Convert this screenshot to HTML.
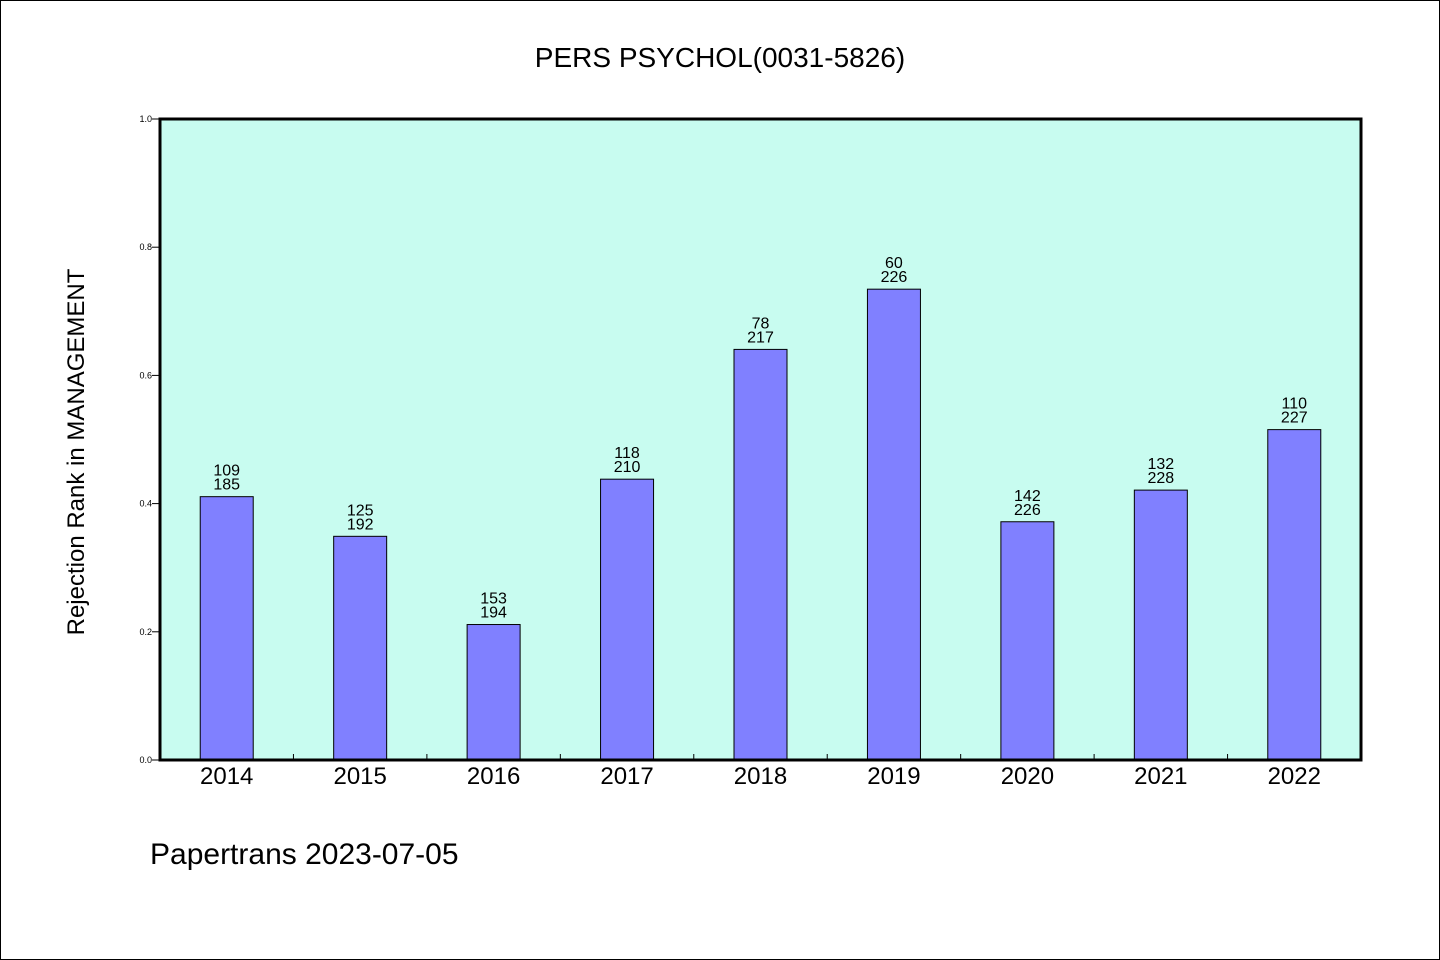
<!DOCTYPE html>
<html><head><meta charset="utf-8"><style>
body{margin:0;background:#fff}
svg{display:block;font-family:"WenQuanYi Zen Hei","Liberation Sans",sans-serif}
</style></head><body>
<svg width="1440" height="960" viewBox="0 0 1440 960">
<rect x="0.5" y="0.5" width="1439" height="959" fill="#fff" stroke="#000"/>
<text x="720" y="67" text-anchor="middle" font-size="28">PERS PSYCHOL(0031-5826)</text>
<rect x="160" y="119" width="1201" height="641" fill="#c8fcf0"/>
<g id="marks"></g>
<rect x="160" y="119" width="1201" height="641" fill="none" stroke="#000" stroke-width="3"/>
<text transform="translate(84,452) rotate(-90)" text-anchor="middle" font-size="24">Rejection Rank in MANAGEMENT</text>
<text x="150" y="864" font-size="30">Papertrans 2023-07-05</text>
</svg>
<script>
const categories=["2014","2015","2016","2017","2018","2019","2020","2021","2022"];
const ranks=[109,125,153,118,78,60,142,132,110];
const totals=[185,192,194,210,217,226,226,228,227];
const yTicks=[0,0.2,0.4,0.6,0.8,1.0];
const X0=160,X1=1361,Y0=760,Y1=119;
const band=(X1-X0)/categories.length;
const xc=i=>X0+band*(i+0.5);
const y=v=>Y0-(Y0-Y1)*v;
const g=document.getElementById('marks');
const NS='http://www.w3.org/2000/svg';
function mk(t,a){const e=document.createElementNS(NS,t);for(const k in a)e.setAttribute(k,a[k]);g.appendChild(e);return e;}
yTicks.forEach(v=>{
 const l=mk('line',{x1:152,x2:160,y1:y(v),y2:y(v),stroke:'#000'});
 
 
 const t=mk('text',{x:152,y:y(v)+3,'text-anchor':'end','font-size':9});
 t.textContent=v.toFixed(1);
 
 
});
for(let i=1;i<categories.length;i++){
 const l=mk('line',{x1:X0+band*i,x2:X0+band*i,y1:754,y2:760,stroke:'#000'});
 
 
}
categories.forEach((c,i)=>{
 const v=1-ranks[i]/totals[i];
 const bw=53;
 const r=mk('rect',{x:xc(i)-bw/2,y:y(v),width:bw,height:Y0-y(v),fill:'#8080ff',stroke:'#000','stroke-width':1});
 
 
 const t1=mk('text',{x:xc(i),y:y(v)-21,'text-anchor':'middle','font-size':16});
 t1.textContent=ranks[i];
 
 
 const t2=mk('text',{x:xc(i),y:y(v)-7,'text-anchor':'middle','font-size':16});
 t2.textContent=totals[i];
 
 
 const xl=mk('text',{x:xc(i),y:784,'text-anchor':'middle','font-size':24});
 xl.textContent=c;
 
 
});
</script>
</body></html>
